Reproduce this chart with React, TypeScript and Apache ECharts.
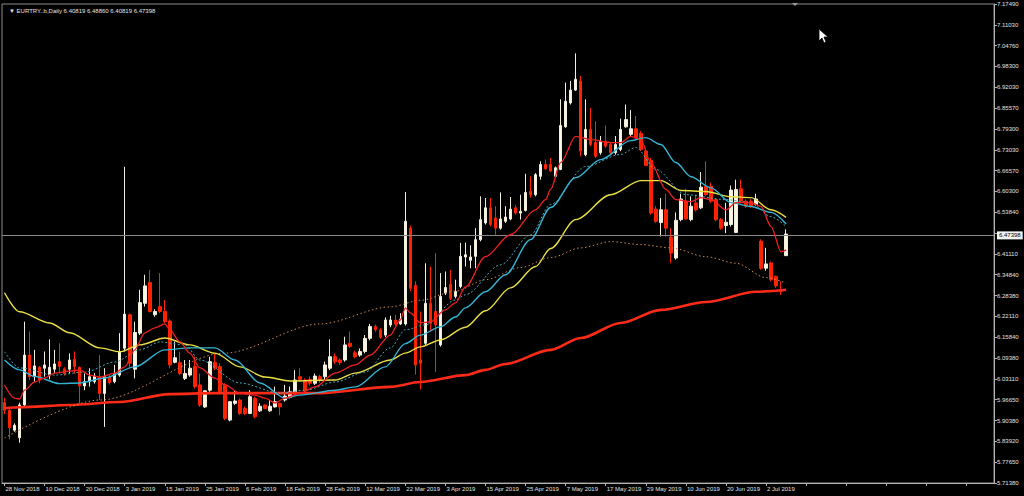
import React, { useEffect, useRef } from "react";
import * as echarts from "echarts";

// ---------- data ----------
const START_DATE = "2018-11-28";
const HOLIDAYS = ["2018-12-25", "2019-01-01"];
const EMPTY_SLOTS = 41; // chart shift space on the right

const opens = [
  5.960, 5.937, 5.876, 5.853, 5.953, 6.105, 6.039, 6.068, 6.065, 6.044,
  6.062, 6.085, 6.063, 6.062, 6.092, 6.068, 6.011, 6.024, 6.024, 6.039,
  5.988, 6.037, 6.024, 6.044, 6.126, 6.228, 6.062, 6.172, 6.263, 6.326,
  6.228, 6.253, 6.238, 6.209, 6.083, 6.082, 6.034, 6.044, 6.070, 6.014,
  5.947, 5.998, 6.082, 6.070, 6.014, 5.907, 5.958, 5.968, 5.942, 5.927,
  5.973, 5.935, 5.953, 5.935, 5.947, 5.958, 5.968, 5.976, 5.988, 6.039,
  6.029, 6.031, 6.019, 6.039, 6.039, 6.065, 6.100, 6.090, 6.090, 6.141,
  6.112, 6.105, 6.116, 6.156, 6.192, 6.182, 6.166, 6.197, 6.212, 6.200,
  6.200, 6.492, 6.318, 6.090, 6.141, 6.263, 6.238, 6.136, 6.294, 6.321,
  6.284, 6.314, 6.404, 6.394, 6.406, 6.457, 6.508, 6.554, 6.523, 6.492,
  6.513, 6.520, 6.554, 6.538, 6.546, 6.604, 6.594, 6.650, 6.686, 6.686,
  6.650, 6.671, 6.801, 6.874, 6.913, 6.941, 6.716, 6.793, 6.754, 6.722,
  6.757, 6.747, 6.722, 6.732, 6.801, 6.778, 6.795, 6.781, 6.727, 6.699,
  6.550, 6.509, 6.548, 6.465, 6.401, 6.518, 6.574, 6.518, 6.569, 6.554,
  6.620, 6.620, 6.579, 6.518, 6.500, 6.503, 6.479, 6.612, 6.574, 6.574,
  6.564, 6.452, 6.370, 6.386, 6.345, 6.305, 6.40819,
];
const highs = [
  5.975, 5.945, 5.897, 5.960, 6.207, 6.177, 6.121, 6.072, 6.116, 6.153,
  6.121, 6.141, 6.068, 6.110, 6.116, 6.070, 6.049, 6.065, 6.050, 6.105,
  6.065, 6.045, 6.075, 6.172, 6.679, 6.232, 6.207, 6.304, 6.350, 6.365,
  6.245, 6.355, 6.273, 6.214, 6.146, 6.116, 6.090, 6.090, 6.100, 6.049,
  5.998, 6.100, 6.110, 6.080, 6.019, 5.965, 5.998, 5.973, 5.948, 5.998,
  5.978, 5.958, 5.955, 5.968, 6.009, 5.960, 6.014, 6.009, 6.059, 6.065,
  6.034, 6.040, 6.049, 6.045, 6.085, 6.153, 6.110, 6.095, 6.161, 6.177,
  6.118, 6.125, 6.166, 6.200, 6.198, 6.187, 6.220, 6.225, 6.228, 6.233,
  6.602, 6.500, 6.330, 6.238, 6.385, 6.375, 6.416, 6.355, 6.360, 6.365,
  6.335, 6.447, 6.448, 6.440, 6.492, 6.589, 6.584, 6.584, 6.559, 6.601,
  6.559, 6.587, 6.563, 6.594, 6.658, 6.650, 6.660, 6.696, 6.701, 6.706,
  6.680, 6.885, 6.936, 6.941, 7.025, 6.956, 6.885, 6.859, 6.818, 6.773,
  6.805, 6.755, 6.773, 6.826, 6.869, 6.852, 6.834, 6.788, 6.737, 6.706,
  6.559, 6.584, 6.597, 6.492, 6.540, 6.597, 6.612, 6.589, 6.594, 6.663,
  6.696, 6.630, 6.584, 6.523, 6.569, 6.622, 6.640, 6.640, 6.580, 6.580,
  6.597, 6.458, 6.432, 6.390, 6.348, 6.330, 6.48860,
];
const lows = [
  5.925, 5.848, 5.871, 5.838, 5.945, 6.029, 6.024, 6.019, 6.039, 6.031,
  6.049, 6.049, 6.043, 6.049, 6.049, 5.958, 5.998, 6.009, 6.018, 5.968,
  5.886, 6.015, 6.019, 6.039, 6.116, 6.065, 6.034, 6.166, 6.253, 6.235,
  6.222, 6.233, 6.202, 6.065, 6.080, 6.044, 6.029, 6.039, 6.003, 5.947,
  5.944, 5.993, 6.059, 5.988, 5.907, 5.903, 5.953, 5.922, 5.922, 5.925,
  5.912, 5.932, 5.940, 5.932, 5.945, 5.922, 5.963, 5.973, 5.983, 6.024,
  5.993, 6.012, 6.014, 6.020, 6.029, 6.059, 6.078, 6.075, 6.085, 6.126,
  6.095, 6.100, 6.110, 6.150, 6.176, 6.155, 6.160, 6.190, 6.192, 6.197,
  6.195, 6.300, 6.045, 6.000, 6.136, 6.177, 6.054, 6.131, 6.288, 6.273,
  6.278, 6.309, 6.375, 6.370, 6.370, 6.452, 6.503, 6.498, 6.472, 6.487,
  6.508, 6.516, 6.533, 6.518, 6.543, 6.585, 6.589, 6.640, 6.670, 6.664,
  6.645, 6.669, 6.798, 6.869, 6.910, 6.711, 6.711, 6.742, 6.706, 6.716,
  6.737, 6.716, 6.716, 6.727, 6.798, 6.773, 6.762, 6.727, 6.681, 6.533,
  6.508, 6.467, 6.467, 6.385, 6.396, 6.513, 6.518, 6.513, 6.543, 6.550,
  6.589, 6.569, 6.513, 6.487, 6.477, 6.497, 6.477, 6.569, 6.554, 6.554,
  6.561, 6.365, 6.362, 6.330, 6.310, 6.288, 6.40819,
];
const closes = [
  5.937, 5.884, 5.891, 5.953, 6.105, 6.039, 6.072, 6.029, 6.075, 6.068,
  6.078, 6.070, 6.049, 6.090, 6.070, 6.011, 6.024, 6.039, 6.041, 5.988,
  6.039, 6.021, 6.049, 6.116, 6.230, 6.080, 6.174, 6.265, 6.316, 6.238,
  6.238, 6.238, 6.207, 6.075, 6.097, 6.049, 6.049, 6.065, 6.009, 5.953,
  5.996, 6.085, 6.065, 5.993, 5.912, 5.963, 5.965, 5.927, 5.927, 5.978,
  5.917, 5.949, 5.942, 5.949, 5.963, 5.947, 5.980, 5.993, 6.029, 6.031,
  5.998, 6.019, 6.041, 6.027, 6.075, 6.100, 6.085, 6.082, 6.136, 6.131,
  6.100, 6.116, 6.156, 6.192, 6.182, 6.159, 6.212, 6.212, 6.200, 6.214,
  6.513, 6.309, 6.075, 6.080, 6.263, 6.202, 6.197, 6.284, 6.311, 6.278,
  6.299, 6.406, 6.411, 6.404, 6.457, 6.518, 6.554, 6.503, 6.492, 6.520,
  6.526, 6.550, 6.538, 6.543, 6.601, 6.594, 6.655, 6.686, 6.673, 6.666,
  6.676, 6.805, 6.879, 6.913, 6.946, 6.727, 6.793, 6.747, 6.711, 6.757,
  6.742, 6.722, 6.747, 6.793, 6.823, 6.795, 6.767, 6.732, 6.683, 6.538,
  6.513, 6.548, 6.492, 6.416, 6.516, 6.581, 6.520, 6.559, 6.548, 6.617,
  6.594, 6.574, 6.518, 6.492, 6.510, 6.608, 6.610, 6.574, 6.559, 6.559,
  6.581, 6.370, 6.383, 6.335, 6.316, 6.300, 6.47398,
];

// moving averages: [bar index, price]
const maFast: [number, number][] = [
  [0, 6.014], [2, 5.974], [3, 5.971], [4, 5.998], [6, 6.023], [8, 6.035], [10, 6.050],
  [13, 6.056], [15, 6.060], [17, 6.044], [19, 6.038], [22, 6.050], [24, 6.069], [26, 6.121],
  [28, 6.173], [30, 6.188], [32, 6.200], [33, 6.182], [35, 6.145], [37, 6.111], [39, 6.066],
  [42, 6.035], [44, 6.014], [47, 5.989], [50, 5.983], [52, 5.974], [54, 5.959], [56, 5.974],
  [59, 5.989], [62, 6.008], [66, 6.050], [70, 6.075], [73, 6.105], [77, 6.166], [79, 6.212],
  [80, 6.249], [81, 6.234], [83, 6.203], [85, 6.206], [88, 6.243], [90, 6.264], [92, 6.313],
  [96, 6.405], [101, 6.472], [106, 6.548], [108, 6.579], [109, 6.610], [111, 6.692],
  [114, 6.772], [117, 6.762], [121, 6.753], [123, 6.753], [125, 6.772], [127, 6.762],
  [129, 6.692], [132, 6.610], [134, 6.579], [137, 6.573], [139, 6.585], [141, 6.579],
  [144, 6.548], [146, 6.570], [149, 6.570], [151, 6.558], [153, 6.497], [155, 6.420],
  [156, 6.426],
];
const maCyan: [number, number][] = [
  [0, 6.090], [3, 6.060], [6, 6.040], [11, 6.018], [15, 6.020], [20, 6.035], [26, 6.069],
  [32, 6.121], [37, 6.127], [42, 6.127], [46, 6.090], [51, 6.020], [56, 5.974], [59, 5.983],
  [66, 5.998], [70, 6.008], [76, 6.069], [80, 6.140], [83, 6.166], [87, 6.191], [90, 6.221],
  [92, 6.249], [96, 6.298], [100, 6.350], [105, 6.457], [109, 6.555], [114, 6.646],
  [119, 6.701], [125, 6.759], [128, 6.768], [131, 6.747], [134, 6.692], [137, 6.649],
  [141, 6.615], [145, 6.570], [149, 6.558], [153, 6.540], [156, 6.505],
];
const maTealDotted: [number, number][] = [
  [0, 6.115], [3, 6.066], [10, 6.044], [16, 6.053], [22, 6.084], [27, 6.121], [31, 6.145],
  [36, 6.136], [39, 6.090], [47, 6.020], [55, 5.989], [60, 5.998], [66, 6.023], [72, 6.053],
  [77, 6.127], [80, 6.182], [84, 6.197], [90, 6.273], [92, 6.289], [99, 6.380], [105, 6.472],
  [109, 6.564], [116, 6.680], [123, 6.717], [126, 6.738], [130, 6.671], [136, 6.594],
  [144, 6.579], [149, 6.570], [153, 6.527], [156, 6.497],
];
const maYellow: [number, number][] = [
  [0, 6.295], [3, 6.237], [9, 6.203], [13, 6.173], [19, 6.127], [23, 6.115], [27, 6.136],
  [32, 6.157], [37, 6.136], [42, 6.111], [47, 6.069], [52, 6.038], [57, 6.026], [66, 6.029],
  [70, 6.050], [77, 6.090], [80, 6.111], [83, 6.130], [87, 6.151], [92, 6.190], [96, 6.240],
  [101, 6.310], [106, 6.375], [109, 6.430], [114, 6.518], [121, 6.594], [127, 6.637],
  [131, 6.637], [135, 6.607], [140, 6.604], [145, 6.588], [149, 6.585], [153, 6.548],
  [156, 6.525],
];
const maOrangeDotted: [number, number][] = [
  [0, 5.852], [19, 5.968], [44, 6.111], [63, 6.200], [77, 6.252], [83, 6.272], [90, 6.300],
  [96, 6.335], [103, 6.372], [109, 6.402], [115, 6.432], [121, 6.451], [127, 6.442],
  [133, 6.432], [140, 6.405], [146, 6.385], [152, 6.341], [156, 6.325],
];
const maThickRed: [number, number][] = [
  [0, 5.943], [3, 5.946], [13, 5.953], [23, 5.962], [33, 5.986], [42, 5.989], [52, 5.989],
  [63, 5.989], [77, 6.008], [83, 6.023], [92, 6.044], [96, 6.060], [100, 6.078], [109, 6.121],
  [115, 6.157], [123, 6.203], [131, 6.243], [140, 6.267], [150, 6.298], [156, 6.304],
];

const yTickLabels = [
  "5.71380", "5.77650", "5.83920", "5.90380", "5.96650", "6.03110", "6.09380", "6.15840",
  "6.22110", "6.28380", "6.34840", "6.41110", "", "6.53840", "6.60300", "6.66570",
  "6.73030", "6.79300", "6.85570", "6.92030", "6.98300", "7.04760", "7.11030", "7.17490",
];
const Y_MIN = 5.715;
const Y_INTERVAL = 0.0635;
const Y_STEPS = 23;
const LAST_PRICE = 6.47398;
const TITLE = "\u25BC EURTRY..b,Daily 6.40819 6.48860 6.40819 6.47398";

// ---------- helpers ----------
const MONTHS = ["Jan", "Feb", "Mar", "Apr", "May", "Jun", "Jul", "Aug", "Sep", "Oct", "Nov", "Dec"];
function tradingDates(start: string, count: number): string[] {
  const out: string[] = [];
  const d = new Date(start + "T00:00:00Z");
  while (out.length < count) {
    const iso = d.toISOString().slice(0, 10);
    const wd = d.getUTCDay();
    if (wd !== 0 && wd !== 6 && !HOLIDAYS.includes(iso)) {
      out.push(`${d.getUTCDate()} ${MONTHS[d.getUTCMonth()]} ${d.getUTCFullYear()}`);
    }
    d.setUTCDate(d.getUTCDate() + 1);
  }
  return out;
}

const FONT = "'Liberation Sans', Arial, sans-serif";
const FS = 6;

export default function App() {
  const ref = useRef<HTMLDivElement>(null);
  useEffect(() => {
    if (!ref.current) return;
    const chart = echarts.init(ref.current, undefined, { renderer: "svg" });
    const dates = tradingDates(START_DATE, opens.length);
    const categories = dates.concat(new Array(EMPTY_SLOTS).fill(""));
    const candles = opens.map((o, i) => [o, closes[i], lows[i], highs[i]]);
    const yMax = Number((Y_MIN + Y_STEPS * Y_INTERVAL).toFixed(4));

    const line = (data: [number, number][], color: string, width: number, type: any, z = 3) => ({
      type: "line",
      data,
      showSymbol: false,
      symbol: "none",
      smooth: 0.3,
      smoothMonotone: "x",
      silent: true,
      z,
      lineStyle: { color, width, type },
    });

    chart.setOption({
      animation: false,
      backgroundColor: "#000000",
      title: {
        text: TITLE,
        left: 4,
        top: 3,
        textStyle: { color: "#e4e4e4", fontSize: FS, fontWeight: "normal", fontFamily: FONT },
      },
      grid: {
        left: 2,
        right: 30,
        top: 4,
        bottom: 13,
        show: true,
        borderColor: "#8c8c8c",
        borderWidth: 1,
        backgroundColor: "transparent",
      },
      xAxis: {
        type: "category",
        data: categories,
        boundaryGap: true,
        axisLine: { show: true, lineStyle: { color: "#b4b4b4" } },
        axisTick: { show: true, interval: 7, alignWithLabel: true, length: 3, lineStyle: { color: "#b4b4b4" } },
        axisLabel: {
          interval: 7,
          showMinLabel: true,
          hideOverlap: false,
          color: "#e0e0e0",
          fontSize: FS,
          fontFamily: FONT,
          align: "left",
          margin: 3,
          padding: [0, 0, 0, 1],
        },
        splitLine: { show: false },
      },
      yAxis: {
        type: "value",
        position: "right",
        min: Y_MIN,
        max: yMax,
        interval: Y_INTERVAL,
        axisLine: { show: true, lineStyle: { color: "#b4b4b4" } },
        axisTick: { show: true, length: 3, lineStyle: { color: "#b4b4b4" } },
        axisLabel: {
          color: "#e0e0e0",
          fontSize: FS,
          fontFamily: FONT,
          margin: 3,
          formatter: (v: number) => yTickLabels[Math.round((v - Y_MIN) / Y_INTERVAL)] ?? "",
        },
        splitLine: { show: false },
      },
      series: [
        {
          type: "candlestick",
          data: candles,
          barWidth: 3,
          z: 2,
          silent: true,
          itemStyle: {
            color: "#fbf6e2",
            color0: "#ff2200",
            borderColor: "#f2eedc",
            borderColor0: "#ff2200",
            borderWidth: 1,
          },
          markLine: {
            silent: true,
            symbol: ["none", "none"],
            lineStyle: { color: "#8a8a8a", width: 1, type: "solid" },
            label: {
              show: true,
              position: "end",
              distance: 3,
              formatter: () => LAST_PRICE.toFixed(5),
              color: "#000000",
              backgroundColor: "#f2f2f2",
              fontSize: FS,
              fontFamily: FONT,
              padding: [1, 2, 1, 2],
            },
            data: [{ yAxis: LAST_PRICE }],
          },
        },
        line(maThickRed, "#ff2a18", 2.6, "solid", 3),
        line(maOrangeDotted, "#c9875a", 1, [1.5, 2.5], 3),
        line(maYellow, "#e9df45", 1.4, "solid", 4),
        line(maTealDotted, "#4aaabb", 1, [2, 2], 4),
        line(maCyan, "#33b4d4", 1.4, "solid", 5),
        line(maFast, "#f02020", 1.3, "solid", 6),
      ],
      graphic: [
        {
          type: "polygon",
          silent: true,
          shape: { points: [[792, 3], [798, 3], [795, 6]] },
          style: { fill: "#9a9a9a" },
        },
        {
          type: "polygon",
          silent: true,
          shape: { points: [[819, 29], [819, 41], [822, 38], [824, 43], [826, 42], [824, 37], [828, 37]] },
          style: { fill: "#ffffff", stroke: "#000000", lineWidth: 0.8 },
        },
      ],
    });
    return () => chart.dispose();
  }, []);

  return (
    <div
      ref={ref}
      style={{ position: "fixed", left: 0, top: 0, width: 1024, height: 496, background: "#000" }}
    />
  );
}
